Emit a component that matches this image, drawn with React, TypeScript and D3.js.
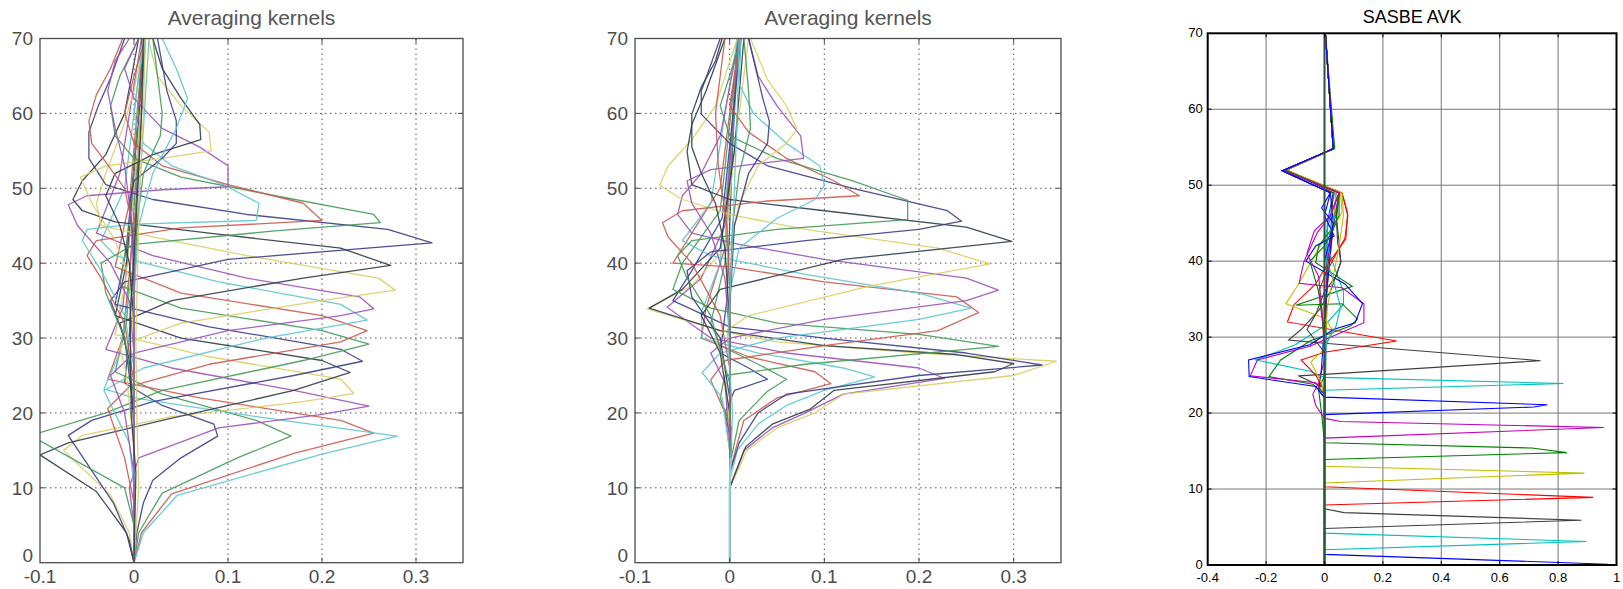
import React from "react";
import * as d3 from "d3";

type Pt = [number, number];

// averaging kernels as [value, altitude km] vertices
// left panel
const kernelsA: Pt[][] = [
  [[0, 0], [0.003, 4], [0.01, 8], [0.02, 11], [0.05, 14], [0.089, 16.9], [0.085, 18.5], [0.03, 21], [-0.01, 24], [-0.005, 30], [0.003, 50], [0.008, 70]],
  [[0, 0], [0.005, 4], [0.03, 9.3], [0.11, 14], [0.167, 16.9], [0.13, 19], [0.03, 22.5], [-0.02, 25.5], [-0.008, 32], [0.004, 55], [0.01, 70]],
  [[0, 0], [0.008, 4], [0.04, 9.2], [0.17, 14.6], [0.255, 17.3], [0.22, 19], [0.07, 22], [-0.028, 24.5], [-0.012, 30], [0.004, 50], [0.012, 70]],
  [[0, 0], [0.01, 4], [0.046, 9], [0.2, 14.5], [0.28, 16.9], [0.13, 19.5], [0.0, 22], [-0.032, 23.2], [-0.015, 28], [0.002, 42], [0.01, 58], [0.016, 70]],
  [[0, 0], [0, 5], [-0.005, 10], [0.005, 14], [0.09, 18], [0.2, 19.8], [0.25, 20.9], [0.17, 23], [0.04, 26], [-0.03, 28.5], [-0.012, 34], [0.004, 55], [0.01, 70]],
  [[0, 0], [-0.005, 4], [-0.025, 9], [-0.075, 15], [-0.055, 17], [0.04, 19.5], [0.18, 21.5], [0.234, 22.6], [0.22, 24.5], [0.08, 27.5], [-0.02, 30.5], [-0.01, 37], [0.004, 55], [0.01, 70]],
  [[0, 0], [-0.008, 4], [-0.04, 9.5], [-0.1, 14.4], [-0.07, 16], [0.03, 19], [0.17, 23], [0.23, 25.4], [0.2, 27], [0.05, 30], [-0.02, 33], [-0.008, 40], [0.005, 60], [0.012, 70]],
  [[0, 0], [-0.005, 3], [-0.022, 8], [-0.07, 17], [-0.045, 19], [0.02, 21.5], [0.17, 25], [0.243, 26.9], [0.22, 28.5], [0.08, 31.5], [-0.02, 34.5], [-0.008, 42], [0.005, 60], [0.01, 70]],
  [[0, 0], [0, 5], [-0.01, 10], [-0.11, 17], [-0.03, 20], [0.03, 23], [0.18, 27], [0.25, 29.2], [0.2, 31], [0.05, 34], [-0.015, 37], [-0.005, 45], [0.006, 62], [0.012, 70]],
  [[0, 0], [0, 8], [-0.01, 14], [-0.028, 20.6], [-0.005, 23.5], [0.08, 26.5], [0.22, 29.5], [0.248, 31], [0.2, 33], [0.05, 36], [-0.02, 39.5], [-0.005, 48], [0.01, 70]],
  [[0, 0], [0, 10], [-0.005, 16], [-0.032, 23], [0.01, 26], [0.14, 30], [0.248, 32.4], [0.22, 34.5], [0.09, 37.5], [-0.02, 41], [-0.035, 43], [-0.01, 50], [0.01, 70]],
  [[0, 0], [0, 12], [-0.01, 20], [-0.025, 25], [0, 28], [0.1, 31], [0.22, 33], [0.255, 33.9], [0.24, 35.5], [0.12, 38], [0.02, 41], [-0.04, 44], [-0.015, 52], [0.008, 70]],
  [[0, 0], [0, 15], [-0.008, 25], [-0.015, 29], [0.05, 32], [0.2, 35], [0.278, 36.4], [0.26, 38], [0.12, 41], [0.02, 43.5], [-0.035, 45], [-0.04, 48], [-0.03, 52], [-0.012, 58], [0.0, 63], [0.01, 70]],
  [[0, 0], [0, 18], [-0.005, 27], [-0.015, 32], [0.04, 35], [0.18, 38], [0.273, 39.7], [0.22, 42], [0.08, 44], [-0.02, 45.5], [-0.055, 47], [-0.065, 48.5], [-0.055, 51], [-0.03, 54.5], [-0.01, 60], [0.005, 70]],
  [[0, 0], [0, 20], [-0.01, 30], [-0.025, 35], [-0.01, 37.5], [0.1, 40.5], [0.317, 42.7], [0.27, 44.5], [0.12, 46.5], [0.02, 48.5], [-0.03, 50.5], [-0.048, 54], [-0.048, 57.5], [-0.038, 61], [-0.024, 65], [-0.01, 70]],
  [[0, 0], [0, 22], [-0.01, 30], [-0.03, 36], [-0.035, 40], [0.0, 42.5], [0.15, 44.3], [0.262, 45.4], [0.255, 46.5], [0.15, 49], [0.05, 51.5], [0.0, 54], [-0.02, 57], [-0.025, 61], [-0.015, 65], [0.005, 70]],
  [[0, 0], [0, 24], [-0.01, 32], [-0.035, 38], [-0.05, 41], [-0.04, 43], [0.05, 44.7], [0.2, 45.7], [0.18, 48], [0.1, 50.5], [0.03, 53], [0.0, 56], [-0.01, 60], [0.0, 65], [0.012, 70]],
  [[0, 0], [0, 26], [-0.01, 33], [-0.035, 39], [-0.055, 43], [-0.05, 44.5], [0.0, 45.2], [0.13, 45.7], [0.133, 48], [0.095, 50.5], [0.04, 53], [0.01, 56], [0.0, 60], [0.005, 65], [0.012, 70]],
  [[0, 0], [0, 28], [-0.005, 35], [-0.025, 40], [-0.06, 45], [-0.07, 47.8], [-0.05, 49], [0.03, 49.8], [0.1, 50.2], [0.1, 53], [0.07, 55.5], [0.03, 58], [0.0, 62], [-0.01, 66], [0.005, 70]],
  [[0, 0], [0, 30], [-0.005, 38], [-0.02, 43], [-0.045, 48], [-0.057, 51.5], [-0.03, 53], [0.03, 54], [0.082, 55], [0.08, 57.5], [0.05, 61], [0.025, 65], [0.015, 70]],
  [[0, 0], [0, 32], [-0.005, 40], [-0.015, 45], [-0.03, 49], [-0.02, 52], [0.02, 54.5], [0.071, 56.5], [0.07, 58.5], [0.05, 62], [0.03, 66], [0.02, 70]],
  [[0, 0], [0, 34], [0, 42], [-0.005, 48], [0.0, 51], [0.03, 54], [0.045, 56], [0.045, 59], [0.035, 63], [0.025, 70]],
  [[0, 0], [0, 35], [0.003, 45], [0.01, 52], [0.028, 57], [0.03, 60], [0.025, 65], [0.02, 70]],
  [[0, 0], [0, 36], [0, 44], [-0.01, 50], [-0.03, 53.5], [-0.045, 56], [-0.048, 59], [-0.04, 62.5], [-0.025, 66], [-0.012, 70]],
  [[0, 0], [0, 36], [0.005, 45], [0.02, 52], [0.045, 58], [0.057, 62], [0.045, 66], [0.03, 70]],
  [[0, 0], [0, 38], [-0.003, 46], [-0.01, 53], [-0.02, 58], [-0.028, 63], [-0.02, 67], [-0.005, 70]],
  [[0, 0], [0.005, 10], [0.003, 20], [0.002, 30], [0.004, 40], [0.006, 50], [0.01, 60], [0.012, 70]],
  [[0, 0], [0.002, 12], [-0.003, 20], [-0.004, 33], [0.002, 45], [0.008, 60], [0.01, 70]],
];

// middle panel
const kernelsB: Pt[][] = [
  [[0, 0], [0, 12], [0.002, 16], [-0.005, 20], [0.005, 23], [0.04, 24.5], [0.02, 26], [-0.01, 28], [-0.003, 35], [0.003, 55], [0.008, 70]],
  [[0, 0], [0, 13], [0.005, 16], [0.01, 19], [0.04, 22.9], [0.06, 24.5], [0.03, 26.5], [-0.01, 29], [-0.02, 32], [-0.005, 40], [0.005, 60], [0.01, 70]],
  [[0, 0], [0, 12], [0.006, 15], [0.015, 19], [0.05, 22], [0.107, 23.9], [0.09, 25.5], [0.02, 27.5], [-0.03, 30], [-0.025, 34], [-0.005, 42], [0.008, 70]],
  [[0, 0], [0, 11], [0.008, 15], [0.03, 18.5], [0.06, 21], [0.1, 23], [0.153, 24.8], [0.12, 26], [0.03, 28], [-0.029, 30], [-0.03, 33.4], [-0.01, 40], [0.004, 60], [0.01, 70]],
  [[0, 0], [0, 10], [0.015, 15], [0.045, 18], [0.08, 20], [0.12, 22.5], [0.227, 24.6], [0.2, 26], [0.06, 28], [-0.02, 30], [-0.066, 34.1], [-0.03, 38], [-0.005, 45], [0.01, 70]],
  [[0, 0], [0, 9.9], [0.018, 15], [0.05, 18], [0.09, 20], [0.12, 22.5], [0.3, 25], [0.345, 26.9], [0.2, 28], [0.05, 29.5], [-0.01, 31], [-0.087, 33.9], [-0.04, 37], [-0.005, 42], [0.005, 55], [0.02, 70]],
  [[0, 0], [0, 10], [0.017, 15.5], [0.045, 18.5], [0.085, 20.5], [0.11, 23], [0.28, 25.5], [0.3, 26.6], [0.24, 27.8], [0.1, 29], [-0.01, 31], [-0.085, 34], [-0.05, 36.5], [-0.01, 42], [0.005, 55], [0.015, 70]],
  [[0, 0], [0, 12], [0.01, 16], [0.03, 20], [0.06, 22.5], [0.2, 25], [0.33, 26.4], [0.25, 28], [0.1, 30], [0.0, 31.5], [-0.06, 35], [-0.04, 39], [-0.008, 46], [0.012, 70]],
  [[0, 0], [0, 14], [0.002, 18], [-0.01, 22], [-0.005, 25], [0.08, 26.5], [0.284, 28.9], [0.2, 30.5], [0.05, 32], [-0.02, 34], [-0.06, 36.5], [-0.05, 40], [-0.01, 47], [0.01, 70]],
  [[0, 0], [0, 15], [-0.005, 20], [-0.02, 24.4], [-0.005, 27], [0.1, 29], [0.22, 31], [0.263, 33.4], [0.24, 35.5], [0.1, 37.5], [0.0, 39.5], [-0.06, 40], [-0.04, 44], [-0.01, 50], [0.01, 70]],
  [[0, 0], [0, 15], [-0.008, 22], [-0.029, 25.4], [-0.01, 28], [0.05, 30], [0.2, 32.5], [0.255, 34], [0.2, 36], [0.08, 38.5], [-0.02, 41], [-0.05, 43], [-0.02, 48], [0.008, 70]],
  [[0, 0], [0, 16], [-0.005, 24], [-0.02, 28], [0.0, 30], [0.1, 32.5], [0.25, 35], [0.284, 36.4], [0.25, 38], [0.1, 40.5], [0.01, 42.5], [-0.04, 44], [-0.055, 46.5], [-0.05, 49], [-0.03, 52], [-0.01, 57], [0.01, 70]],
  [[0, 0], [0, 18], [-0.005, 26], [-0.015, 30], [0.02, 33], [0.15, 37], [0.275, 39.9], [0.22, 42], [0.08, 44.5], [0.0, 46.5], [-0.05, 48.5], [-0.074, 50.4], [-0.065, 53], [-0.04, 56.5], [-0.015, 61], [0.008, 70]],
  [[0, 0], [0, 20], [-0.01, 28], [-0.03, 33], [-0.01, 36.5], [0.12, 40.5], [0.298, 42.9], [0.25, 44.8], [0.1, 47], [0.0, 48.5], [-0.04, 50.5], [-0.045, 54.9], [-0.04, 58.5], [-0.025, 63], [-0.005, 70]],
  [[0, 0], [0, 22], [-0.01, 30], [-0.04, 35.5], [-0.045, 39], [-0.02, 41.5], [0.08, 43], [0.2, 44.5], [0.245, 45.6], [0.23, 47], [0.13, 50], [0.04, 53], [0.0, 56], [-0.03, 59.9], [-0.03, 63], [-0.01, 70]],
  [[0, 0], [0, 24], [-0.02, 33], [-0.045, 38], [-0.055, 41], [-0.04, 43], [0.05, 44.5], [0.188, 45.8], [0.188, 48.4], [0.13, 51], [0.05, 54], [0.0, 57], [-0.01, 61], [0.0, 65], [0.012, 70]],
  [[0, 0], [0, 26], [-0.01, 33], [-0.04, 40], [-0.065, 43.5], [-0.071, 45.4], [-0.05, 47], [0.04, 48.3], [0.137, 49], [0.11, 51], [0.06, 54], [0.02, 57.5], [0.0, 61], [0.005, 65], [0.012, 70]],
  [[0, 0], [0, 28], [0, 36], [0.01, 42], [0.05, 46], [0.09, 48.5], [0.1, 50.4], [0.095, 53], [0.06, 56], [0.025, 60], [0.01, 64], [0.012, 70]],
  [[0, 0], [0, 30], [-0.005, 38], [-0.02, 44], [-0.04, 48], [-0.045, 51], [-0.02, 52.5], [0.03, 53.3], [0.078, 54], [0.075, 57], [0.05, 61], [0.03, 65], [0.02, 70]],
  [[0, 0], [0, 32], [0.0, 42], [0.01, 48], [0.03, 53], [0.06, 56], [0.071, 57.9], [0.06, 61], [0.04, 64.5], [0.022, 70]],
  [[0, 0], [0, 32], [-0.005, 42], [-0.015, 48], [-0.03, 52], [-0.04, 55.5], [-0.04, 59.9], [-0.03, 63.5], [-0.015, 67], [-0.008, 70]],
  [[0, 0], [0, 34], [0.005, 45], [0.02, 52], [0.04, 56], [0.042, 58.9], [0.035, 62], [0.02, 70]],
  [[0, 0], [0, 34], [0.003, 45], [0.01, 52], [0.022, 58], [0.02, 63], [0.015, 70]],
  [[0, 0], [0, 36], [-0.003, 45], [-0.012, 53], [-0.015, 60], [-0.01, 65], [-0.005, 70]],
  [[0, 0], [0, 10], [0.003, 20], [-0.002, 30], [0.002, 40], [0.005, 50], [0.008, 60], [0.01, 70]],
];
const zeroTraceB: Pt[] = [[0, 0], [0, 10], [0.001, 14]];

// right panel (SASBE)
const kernelsC: Pt[][] = [
  [[0.97, 0.1], [0, 1.4], [0, 15], [0.005, 30], [0.01, 45], [0.03, 49], [-0.13, 52], [0.03, 54.8], [0.003, 70]],
  [[0, 0], [0, 2], [0.897, 3.1], [0, 4.2], [0, 15], [0.005, 30], [0.01, 45], [0.035, 49], [-0.135, 52], [0.032, 54.8], [0.003, 70]],
  [[0, 0], [0, 4.8], [0.88, 5.9], [0.067, 6.9], [0, 7.4], [0, 20], [0.005, 35], [0.03, 49], [-0.13, 52], [0.03, 54.8], [0.003, 70]],
  [[0, 0], [0, 7.9], [0.92, 8.9], [0, 10.3], [0, 22], [0.005, 35], [0.04, 49], [-0.135, 52], [0.03, 54.8], [0.003, 70]],
  [[0, 0], [0, 10.8], [0.89, 12.1], [0, 13], [0, 22], [0.005, 35], [0.04, 49], [-0.13, 52], [0.03, 54.8], [0.003, 70]],
  [[0, 0], [0, 13.9], [0.83, 14.8], [0.71, 15.4], [0, 16.1], [-0.01, 20], [-0.02, 23], [0, 25], [0.01, 40], [0.05, 49], [-0.13, 52], [0.035, 54.8], [0.003, 70]],
  [[0, 0], [0, 16.7], [0.957, 18.1], [0.056, 18.9], [0, 19.3], [-0.03, 21], [-0.04, 22.5], [-0.02, 24], [0, 27], [0.01, 40], [0.05, 49], [-0.14, 51.9], [0.03, 54.8], [0.003, 70]],
  [[0, 0], [0, 19.8], [0.717, 20.8], [0.763, 21.1], [0, 22.1], [-0.02, 23], [-0.01, 26], [0.005, 35], [0.03, 45], [0.02, 49], [-0.145, 51.9], [0.03, 54.8], [0.003, 70]],
  [[0, 0], [0, 23], [0.818, 23.9], [0, 24.7], [-0.05, 25.5], [-0.235, 27], [-0.1, 29], [0.0, 31.5], [0.065, 34.3], [0.065, 36], [0.033, 39.3], [0.0, 43], [0.03, 47], [0.05, 49], [-0.135, 51.9], [0.03, 54.8], [0.003, 70]],
  [[0, 0], [0, 23], [-0.01, 23.5], [-0.09, 24.9], [0, 25.1], [0.74, 26.9], [0, 29.2], [-0.123, 29.6], [-0.08, 31], [-0.02, 33.5], [0.02, 36], [0.056, 39.9], [0.05, 42.5], [0.04, 46], [0.05, 49], [-0.135, 52], [0.03, 54.8], [0.003, 70]],
  [[0, 0], [0, 23], [-0.03, 25], [-0.08, 27], [0, 28], [0.247, 29.5], [-0.127, 32], [-0.104, 34.3], [-0.03, 37], [0.0, 39], [0.073, 42.9], [0.079, 46.3], [0.06, 49], [-0.135, 52], [0.03, 54.8], [0.003, 70]],
  [[0, 0], [0, 22], [-0.01, 24], [-0.047, 26.7], [0.0, 28.5], [0.027, 31], [0.0, 32.5], [-0.07, 33.5], [-0.132, 34.4], [-0.087, 37.1], [-0.03, 41], [0.0, 43], [0.04, 45], [0.06, 46.5], [0.055, 49], [-0.135, 52], [0.03, 54.8], [0.003, 70]],
  [[0, 0], [0, 22.5], [-0.04, 23.8], [-0.19, 24.8], [-0.15, 27], [-0.05, 29.5], [0.09, 31.5], [0.113, 32.4], [0.06, 34.4], [-0.098, 34.2], [0.095, 36.7], [-0.03, 39.8], [-0.02, 42], [0.02, 44], [0.05, 46], [0.05, 49], [-0.14, 51.9], [0.03, 54.8], [0.003, 70]],
  [[0, 0], [0, 22.5], [-0.03, 24], [-0.254, 24.9], [-0.23, 27], [-0.05, 28.8], [0.02, 30], [0.135, 31.9], [0.135, 34.4], [0.06, 36.5], [-0.087, 37.1], [-0.07, 40], [-0.024, 43.8], [0.02, 46], [0.05, 49], [-0.14, 51.9], [0.03, 54.8], [0.003, 70]],
  [[0, 0], [0, 22], [-0.03, 23.5], [-0.258, 24.8], [-0.26, 27], [-0.05, 29], [0.03, 31], [0.105, 31.9], [0.13, 34.4], [0.07, 37], [-0.064, 40], [-0.03, 42], [0.033, 43.3], [0.0, 46], [0.02, 49], [-0.145, 51.9], [0.03, 54.8], [0.003, 70]],
  [[0, 0], [0, 26], [0.005, 29], [0.04, 31.5], [0.055, 34], [0.03, 37.5], [0.0, 41], [0.02, 44], [0.045, 47], [0.05, 49], [-0.135, 52], [0.03, 54.8], [0.003, 70]],
  [[0, 0], [0, 24], [0, 28], [-0.06, 31], [-0.03, 33], [0.0, 36], [0.04, 38], [0.056, 39.9], [0.045, 42.5], [0.04, 46], [0.05, 49], [-0.135, 52], [0.03, 54.8], [0.003, 70]],
  [[0, 0], [0, 28], [-0.01, 34], [-0.02, 36], [0.0, 38], [0.04, 41], [0.07, 43], [0.08, 46], [0.06, 49], [-0.135, 52], [0.03, 54.8], [0.003, 70]],
  [[0, 0], [0, 28], [0.01, 34], [0.03, 38], [0.05, 42], [0.065, 46], [0.06, 49], [-0.13, 52], [0.03, 54.8], [0.003, 70]],
  [[0, 0], [0, 30], [-0.02, 36], [-0.05, 40], [0.0, 42], [0.04, 45], [0.05, 49], [-0.135, 52], [0.03, 54.8], [0.003, 70]],
  [[0, 0], [0, 30], [-0.02, 38], [-0.06, 41], [-0.035, 44], [0.02, 46], [0.05, 49], [-0.14, 51.9], [0.03, 54.8], [0.003, 70]],
  [[0, 0], [0, 35], [0.0, 40], [0.02, 43], [0.03, 45], [-0.01, 47], [0.02, 49], [-0.145, 51.9], [0.03, 54.8], [0.003, 70]],
];
const zeroLineC: Pt[] = [[0, 0], [0, 70]];

const titleA = "Averaging kernels";
const titleB = "Averaging kernels";
const titleC = "SASBE AVK";
const xTicksAB = [-0.1, 0, 0.1, 0.2, 0.3];
const xTicksC = [-0.4, -0.2, 0, 0.2, 0.4, 0.6, 0.8, 1];
const yTicks = [0, 10, 20, 30, 40, 50, 60, 70];

// matlab colour order as it looks after jpeg blur (b g r c m y k)
const mutedColors = ["#3b3d8c", "#449a58", "#cc5a50", "#5cc6cf", "#9b52ba", "#d8cf64", "#2f3c4a"];
const sasbeColors = ["#0000ff", "#00bfbf", "#404040", "#ff0000", "#bfbf00", "#008000", "#bf00bf"];

const FONT = "'Liberation Sans', Arial, sans-serif";

function OldPanel({ id, x0, x1, kernels, title, extra }) {
  const top = 38.5;
  const bottom = 562.7;
  const x = d3.scaleLinear().domain([-0.1, 0.35]).range([x0, x1]);
  const y = d3.scaleLinear().domain([0, 70]).range([bottom, top]);
  const line = d3.line<Pt>().x((d) => x(d[0])).y((d) => y(d[1]));
  const ink = "#4d4d4d";
  return (
    <g>
      <defs>
        <clipPath id={id}>
          <rect x={x0} y={top} width={x1 - x0} height={bottom - top} />
        </clipPath>
      </defs>
      {xTicksAB.slice(1).map((t) => (
        <line key={"gx" + t} x1={x(t)} x2={x(t)} y1={top} y2={bottom} stroke="#555" strokeWidth={1} strokeDasharray="1.5,3.5" />
      ))}
      {yTicks.slice(1, -1).map((t) => (
        <line key={"gy" + t} x1={x0} x2={x1} y1={y(t)} y2={y(t)} stroke="#555" strokeWidth={1} strokeDasharray="1.5,3.5" />
      ))}
      <g clipPath={`url(#${id})`}>
        {kernels.map((k, i) => (
          <path key={i} d={line(k)} fill="none" stroke={mutedColors[i % 7]} strokeWidth={1.3} strokeOpacity={0.9} strokeLinejoin="round" />
        ))}
        {extra && <path d={line(extra)} fill="none" stroke="#8fd0d6" strokeWidth={2.2} />}
      </g>
      {xTicksAB.slice(1).map((t) => (
        <g key={"tx" + t}>
          <line x1={x(t)} x2={x(t)} y1={bottom} y2={bottom - 5} stroke={ink} />
          <line x1={x(t)} x2={x(t)} y1={top} y2={top + 5} stroke={ink} />
        </g>
      ))}
      {yTicks.slice(1, -1).map((t) => (
        <g key={"ty" + t}>
          <line x1={x0} x2={x0 + 5} y1={y(t)} y2={y(t)} stroke={ink} />
          <line x1={x1} x2={x1 - 5} y1={y(t)} y2={y(t)} stroke={ink} />
        </g>
      ))}
      <rect x={x0} y={top} width={x1 - x0} height={bottom - top} fill="none" stroke={ink} strokeWidth={1.3} />
      {xTicksAB.map((t) => (
        <text key={"lx" + t} x={x(t)} y={583} textAnchor="middle" fontSize={19} fill={ink} fontFamily={FONT}>
          {String(t)}
        </text>
      ))}
      {yTicks.map((t) => (
        <text key={"ly" + t} x={x0 - 7} y={t === 0 ? y(t) - 8 : y(t)} dy="0.36em" textAnchor="end" fontSize={19} fill={ink} fontFamily={FONT}>
          {String(t)}
        </text>
      ))}
      <text x={(x0 + x1) / 2} y={25} textAnchor="middle" fontSize={21} fill="#555" fontFamily={FONT}>
        {title}
      </text>
    </g>
  );
}

function SasbePanel() {
  const x0 = 1207.7;
  const x1 = 1616.5;
  const top = 33.3;
  const bottom = 565;
  const x = d3.scaleLinear().domain([-0.4, 1]).range([x0, x1]);
  const y = d3.scaleLinear().domain([0, 70]).range([bottom, top]);
  const line = d3.line<Pt>().x((d) => x(d[0])).y((d) => y(d[1]));
  return (
    <g>
      <defs>
        <clipPath id="clipC">
          <rect x={x0} y={top} width={x1 - x0} height={bottom - top} />
        </clipPath>
      </defs>
      {xTicksC.slice(1, -1).map((t) => (
        <line key={"gx" + t} x1={x(t)} x2={x(t)} y1={top} y2={bottom} stroke="#8c8c8c" strokeWidth={1.2} />
      ))}
      {yTicks.slice(1, -1).map((t) => (
        <line key={"gy" + t} x1={x0} x2={x1} y1={y(t)} y2={y(t)} stroke="#777" strokeWidth={1} />
      ))}
      <g clipPath="url(#clipC)">
        {kernelsC.map((k, i) => (
          <path key={i} d={line(k)} fill="none" stroke={sasbeColors[i % 7]} strokeWidth={1.1} strokeLinejoin="miter" />
        ))}
        <path d={line(zeroLineC)} fill="none" stroke="#2a5a3a" strokeWidth={2} />
      </g>
      {xTicksC.slice(1, -1).map((t) => (
        <g key={"tx" + t}>
          <line x1={x(t)} x2={x(t)} y1={bottom} y2={bottom - 4} stroke="#000" />
          <line x1={x(t)} x2={x(t)} y1={top} y2={top + 4} stroke="#000" />
        </g>
      ))}
      {yTicks.slice(1, -1).map((t) => (
        <g key={"ty" + t}>
          <line x1={x0} x2={x0 + 4} y1={y(t)} y2={y(t)} stroke="#000" />
          <line x1={x1} x2={x1 - 4} y1={y(t)} y2={y(t)} stroke="#000" />
        </g>
      ))}
      <rect x={x0} y={top} width={x1 - x0} height={bottom - top} fill="none" stroke="#000" strokeWidth={2} />
      {xTicksC.map((t) => (
        <text key={"lx" + t} x={x(t)} y={582} textAnchor="middle" fontSize={13} fill="#000" fontFamily={FONT}>
          {String(t)}
        </text>
      ))}
      {yTicks.map((t) => (
        <text key={"ly" + t} x={x0 - 5} y={y(t)} dy="0.3em" textAnchor="end" fontSize={13} fill="#000" fontFamily={FONT}>
          {String(t)}
        </text>
      ))}
      <text x={(x0 + x1) / 2} y={22.5} textAnchor="middle" fontSize={18} fill="#000" fontFamily={FONT}>
        {titleC}
      </text>
    </g>
  );
}

export default function App() {
  return (
    <svg width={1623} height={589} style={{ position: "absolute", left: 0, top: 0, background: "#fff" }}>
      <rect width={1623} height={589} fill="#fff" />
      <OldPanel id="clipA" x0={40} x1={463} kernels={kernelsA} title={titleA} extra={null} />
      <OldPanel id="clipB" x0={635} x1={1061} kernels={kernelsB} title={titleB} extra={zeroTraceB} />
      <SasbePanel />
    </svg>
  );
}
